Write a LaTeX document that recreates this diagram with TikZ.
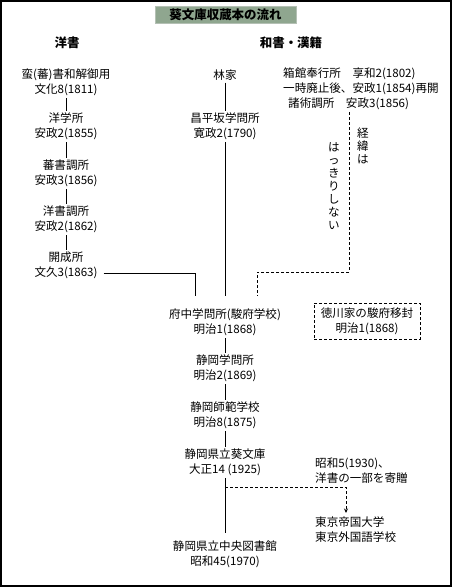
\documentclass[tikz,border=0pt]{standalone}
\usepackage{fontspec}
\newfontfamily\cjk{Noto Sans CJK JP}
\usetikzlibrary{arrows.meta}
\definecolor{titlefill}{RGB}{143,166,143}
\definecolor{titledraw}{RGB}{180,192,180}
\tikzset{
  txt/.style={font=\cjk\fontsize{11.6}{15}\selectfont, align=center, inner sep=2bp, text=black},
  ltxt/.style={txt, align=left, inner sep=0bp},
  vtxt/.style={font=\cjk\fontsize{11.6}{13}\selectfont, align=center, inner sep=0bp},
  head/.style={font=\cjk\bfseries\fontsize{12.5}{15}\selectfont, inner sep=0bp},
  link/.style={draw=black, line width=0.9bp},
  dline/.style={draw=black, line width=0.9bp, dash pattern=on 3bp off 2bp},
}
\begin{document}
\begin{tikzpicture}[x=1bp,y=-1bp]
\useasboundingbox (0,0) rectangle (452,587);
\fill[white] (0,0) rectangle (452,587);
\draw[line width=2.4bp] (1.2,1.2) rectangle (450.8,585.8);

% title
\node[fill=titlefill, draw=titledraw, line width=0.8bp, minimum width=141bp,
      minimum height=17bp, inner sep=0bp, head] (title) at (225.5,14.5) {葵文庫収蔵本の流れ};

% headings
\node[head] (hyosho) at (67,43) {洋書};
\node[head] (hwasho) at (291,43) {和書・漢籍};

% left column
\node[txt] (ban) at (66,82.5) {蛮(蕃)書和解御用\\文化8(1811)};
\node[txt] (yogakusho) at (66,126.5) {洋学所\\安政2(1855)};
\node[txt] (bansho) at (66,173.5) {蕃書調所\\安政3(1856)};
\node[txt] (yosho) at (66,219.5) {洋書調所\\安政2(1862)};
\node[txt] (kaisei) at (66,265.5) {開成所\\文久3(1863)};

% center column
\node[txt] (hayashi) at (225,75) {林家};
\node[txt] (shohei) at (225,126.5) {昌平坂学問所\\寛政2(1790)};
\node[txt] (fuchu) at (225,322.5) {府中学問所(駿府学校)\\明治1(1868)};
\node[txt] (shizgaku) at (225,368.5) {静岡学問所\\明治2(1869)};
\node[txt] (shihan) at (225,415.5) {静岡師範学校\\明治8(1875)};
\node[txt] (aoi) at (225,462.5) {静岡県立葵文庫\\大正14 (1925)};
\node[txt] (chuo) at (225,554.5) {静岡県立中央図書館\\昭和45(1970)};

% right column
\node[ltxt, anchor=west] (hakodate) at (283,89)
  {箱館奉行所　享和2(1802)\\一時廃止後、安政1(1854)再開\\\hspace*{5bp}諸術調所　安政3(1856)};
\node[vtxt] (keii) at (363,146) {経\\緯\\は};
\node[vtxt] (hakkiri) at (334,186) {は\\っ\\き\\り\\し\\な\\い};
\node[txt, dline, minimum width=106bp, minimum height=36bp] (tokugawa) at (367,321)
  {徳川家の駿府移封\\明治1(1868)};
\node[ltxt, anchor=west] (showa5) at (315,470.5) {昭和5(1930)、\\洋書の一部を寄贈};
\node[ltxt, anchor=west] (todai) at (315,530) {東京帝国大学\\東京外国語学校};

% connectors, left column
\draw[link] (ban) -- (yogakusho);
\draw[link] (yogakusho) -- (bansho);
\draw[link] (bansho) -- (yosho);
\draw[link] (yosho) -- (kaisei);
\draw[link, shorten >=11bp] ([xshift=4bp,yshift=-7.5bp]kaisei.east) -| ([xshift=-30bp]fuchu.north);

% center column
\draw[link] (hayashi) -- (shohei);
\draw[link, shorten >=11bp] (shohei) -- (fuchu);
\draw[link] (fuchu) -- (shizgaku);
\draw[link] (shizgaku) -- (shihan);
\draw[link] (shihan) -- (aoi);
\draw[link, shorten >=6bp] (aoi) -- (chuo);

% dashed from hakodate
\coordinate (dtop) at (349,112);
\coordinate (dcorner) at (349,272);
\draw[dline, shorten >=11bp] (dtop) -- (dcorner) -| ([xshift=32bp]fuchu.north);

% dashed to tokyo
\coordinate (junc) at (225,487);
\coordinate (arrowend) at (346,513);
\draw[dline, -{Stealth[length=4.5bp,width=4bp]}] (junc) -| (arrowend);
\end{tikzpicture}
\end{document}
